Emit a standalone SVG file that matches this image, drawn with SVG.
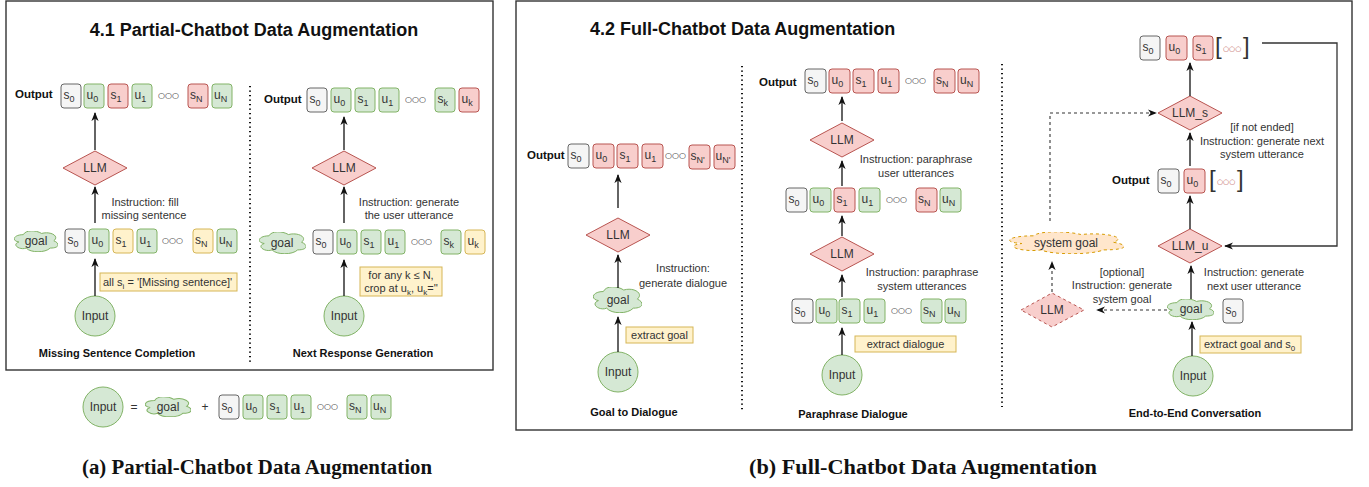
<svg xmlns="http://www.w3.org/2000/svg" xmlns:xlink="http://www.w3.org/1999/xlink" width="1369" height="487" viewBox="0 0 1369 487">
<style>
text{font-family:"Liberation Sans",Arial,sans-serif;fill:#333}
.frame{fill:none;stroke:#333;stroke-width:1.4}
.title{font-size:18px;font-weight:bold;fill:#111}
.cap{font-family:"Liberation Serif","Times New Roman",serif;font-size:20.5px;font-weight:bold;fill:#111;text-anchor:middle}
.sub{font-size:11px;font-weight:bold;fill:#111;text-anchor:middle}
.lb{font-size:11.5px;font-weight:bold;fill:#111}
.t{font-size:11px;text-anchor:middle}
.bt{font-size:12px}
.s{font-size:9px}
.ct{font-size:12px;text-anchor:middle}
.ooo{font-family:"DejaVu Sans",sans-serif;font-size:8px;fill:#222}
.red{fill:#b85450;font-size:7px}
.brk{font-size:24px;fill:#333}
.g{fill:#f5f5f5;stroke:#666}
.gr{fill:#d5e8d4;stroke:#82b366}
.r{fill:#f8cecc;stroke:#b85450}
.y{fill:#fff2cc;stroke:#d6b656}
.og{fill:#ffe6cc;stroke:#d79b00;stroke-dasharray:3 3}
.dots{stroke:#111;stroke-width:2;stroke-dasharray:1.3 3.2;fill:none}
.ar{stroke:#111;stroke-width:1.3;fill:none;marker-end:url(#ah)}
.da{stroke:#333;stroke-width:1.1;fill:none;stroke-dasharray:3 3;marker-end:url(#ah)}
.ln{stroke:#333;stroke-width:1.3;fill:none;marker-end:url(#ah)}
</style>
<defs>
<marker id="ah" viewBox="0 0 10 10" refX="9" refY="5" markerWidth="9" markerHeight="9" markerUnits="userSpaceOnUse" orient="auto">
<path d="M0,1 L10,5 L0,9 L3,5 Z" fill="#111"/>
</marker>
<symbol id="cloud" viewBox="6 5 90 43" preserveAspectRatio="none">
<path vector-effect="non-scaling-stroke" d="M25,12.5 C5,12.5 0,25 16,27.5 C0,33 18,45 31,40 C40,50 70,50 80,40 C100,40 100,30 87.5,25 C100,15 80,5 62.5,10 C50,2.5 30,2.5 25,12.5 Z"/>
</symbol>
</defs>

<!-- ===== Panel (a) ===== -->
<g id="frame-a"><rect class="frame" x="6" y="1" width="487" height="369"/></g>
<text class="title" x="254" y="36" text-anchor="middle">4.1 Partial-Chatbot Data Augmentation</text>
<line class="dots" x1="250" y1="86" x2="250" y2="364"/>

<!-- Missing sentence completion -->
<g id="msc-output">
<text class="lb" x="15" y="98">Output</text>
<rect class="g" x="61" y="84" width="20" height="24" rx="3"/><text class="bt" x="63.5" y="99" fill="#666">s<tspan class="s" dy="3">0</tspan></text>
<rect class="gr" x="84" y="84" width="20" height="24" rx="3"/><text class="bt" x="86.5" y="99">u<tspan class="s" dy="3">0</tspan></text>
<rect class="r" x="108" y="84" width="20" height="24" rx="3"/><text class="bt" x="110.5" y="99">s<tspan class="s" dy="3">1</tspan></text>
<rect class="gr" x="132" y="84" width="20" height="24" rx="3"/><text class="bt" x="134.5" y="99">u<tspan class="s" dy="3">1</tspan></text>
<text class="ooo" x="158" y="98">○○○</text>
<rect class="r" x="188" y="84" width="20" height="24" rx="3"/><text class="bt" x="190" y="99">s<tspan class="s" dy="3">N</tspan></text>
<rect class="gr" x="212" y="84" width="20" height="24" rx="3"/><text class="bt" x="214" y="99">u<tspan class="s" dy="3">N</tspan></text>
</g>
<g id="msc-llm"><polygon class="r" points="63,168 95,151 127,168 95,185"/><text class="ct" x="95" y="172">LLM</text></g>
<g id="msc-goal"><use href="#cloud" x="14" y="231" width="44" height="21" class="gr"/><text class="ct" x="36" y="245">goal</text></g>
<g id="msc-input-row">
<rect class="g" x="65" y="229" width="20" height="24" rx="3"/><text class="bt" x="67.5" y="244" fill="#666">s<tspan class="s" dy="3">0</tspan></text>
<rect class="gr" x="89" y="229" width="20" height="24" rx="3"/><text class="bt" x="91.5" y="244">u<tspan class="s" dy="3">0</tspan></text>
<rect class="y" x="113" y="229" width="20" height="24" rx="3"/><text class="bt" x="115.5" y="244">s<tspan class="s" dy="3">1</tspan></text>
<rect class="gr" x="137" y="229" width="20" height="24" rx="3"/><text class="bt" x="139.5" y="244">u<tspan class="s" dy="3">1</tspan></text>
<text class="ooo" x="162" y="243">○○○</text>
<rect class="y" x="193" y="229" width="20" height="24" rx="3"/><text class="bt" x="195" y="244">s<tspan class="s" dy="3">N</tspan></text>
<rect class="gr" x="217" y="229" width="20" height="24" rx="3"/><text class="bt" x="219" y="244">u<tspan class="s" dy="3">N</tspan></text>
</g>
<g id="msc-note"><rect class="y" x="100" y="273" width="137" height="18"/><text x="103" y="286" font-size="11">all s<tspan font-size="8" dy="3">i</tspan><tspan dy="-3"> = '[Missing sentence]'</tspan></text></g>
<g id="msc-input"><circle class="gr" cx="95" cy="316" r="20"/><text class="ct" x="95" y="320">Input</text></g>
<text class="t" x="145" y="206">Instruction: fill</text>
<text class="t" x="144" y="219">missing sentence</text>
<text class="sub" x="117" y="357">Missing Sentence Completion</text>

<!-- Next response generation -->
<g id="nrg-output">
<text class="lb" x="264" y="103">Output</text>
<rect class="g" x="307" y="88" width="20" height="24" rx="3"/><text class="bt" x="309.5" y="103" fill="#666">s<tspan class="s" dy="3">0</tspan></text>
<rect class="gr" x="331" y="88" width="20" height="24" rx="3"/><text class="bt" x="333.5" y="103">u<tspan class="s" dy="3">0</tspan></text>
<rect class="gr" x="355" y="88" width="20" height="24" rx="3"/><text class="bt" x="357.5" y="103">s<tspan class="s" dy="3">1</tspan></text>
<rect class="gr" x="379" y="88" width="20" height="24" rx="3"/><text class="bt" x="381.5" y="103">u<tspan class="s" dy="3">1</tspan></text>
<text class="ooo" x="405" y="102">○○○</text>
<rect class="gr" x="435" y="88" width="20" height="24" rx="3"/><text class="bt" x="437.5" y="103">s<tspan class="s" dy="3">k</tspan></text>
<rect class="r" x="459" y="88" width="20" height="24" rx="3"/><text class="bt" x="461.5" y="103">u<tspan class="s" dy="3">k</tspan></text>
</g>
<g id="nrg-llm"><polygon class="r" points="312,168 344,151 376,168 344,185"/><text class="ct" x="344" y="172">LLM</text></g>
<g id="nrg-goal"><use href="#cloud" x="259" y="232" width="47" height="22" class="gr"/><text class="ct" x="282" y="247">goal</text></g>
<g id="nrg-input-row">
<rect class="g" x="313" y="230" width="20" height="24" rx="3"/><text class="bt" x="315.5" y="245" fill="#666">s<tspan class="s" dy="3">0</tspan></text>
<rect class="gr" x="337" y="230" width="20" height="24" rx="3"/><text class="bt" x="339.5" y="245">u<tspan class="s" dy="3">0</tspan></text>
<rect class="gr" x="361" y="230" width="20" height="24" rx="3"/><text class="bt" x="363.5" y="245">s<tspan class="s" dy="3">1</tspan></text>
<rect class="gr" x="385" y="230" width="20" height="24" rx="3"/><text class="bt" x="387.5" y="245">u<tspan class="s" dy="3">1</tspan></text>
<text class="ooo" x="411" y="244">○○○</text>
<rect class="gr" x="441" y="230" width="20" height="24" rx="3"/><text class="bt" x="443.5" y="245">s<tspan class="s" dy="3">k</tspan></text>
<rect class="y" x="465" y="230" width="20" height="24" rx="3"/><text class="bt" x="467.5" y="245">u<tspan class="s" dy="3">k</tspan></text>
</g>
<g id="nrg-note"><rect class="y" x="360" y="267" width="82" height="29"/>
<text class="t" x="401" y="279">for any k ≤ N,</text>
<text class="t" x="401" y="292">crop at u<tspan font-size="8" dy="3">k</tspan><tspan dy="-3">, u</tspan><tspan font-size="8" dy="3">k</tspan><tspan dy="-3">=''</tspan></text></g>
<g id="nrg-input"><circle class="gr" cx="344" cy="316" r="20"/><text class="ct" x="344" y="320">Input</text></g>
<text class="t" x="409" y="206">Instruction: generate</text>
<text class="t" x="409" y="219">the user utterance</text>
<text class="sub" x="363" y="357">Next Response Generation</text>

<!-- Legend -->
<g id="legend">
<circle class="gr" cx="103" cy="407" r="20"/><text class="ct" x="103" y="411">Input</text>
<text class="ct" x="134" y="411">=</text>
<use href="#cloud" x="145" y="397" width="46" height="20" class="gr"/><text class="ct" x="168" y="411">goal</text>
<text class="ct" x="205" y="411">+</text>
<rect class="g" x="219" y="395" width="20" height="24" rx="3"/><text class="bt" x="221.5" y="410" fill="#666">s<tspan class="s" dy="3">0</tspan></text>
<rect class="gr" x="243" y="395" width="20" height="24" rx="3"/><text class="bt" x="245.5" y="410">u<tspan class="s" dy="3">0</tspan></text>
<rect class="gr" x="267" y="395" width="20" height="24" rx="3"/><text class="bt" x="269.5" y="410">s<tspan class="s" dy="3">1</tspan></text>
<rect class="gr" x="291" y="395" width="20" height="24" rx="3"/><text class="bt" x="293.5" y="410">u<tspan class="s" dy="3">1</tspan></text>
<text class="ooo" x="317" y="409">○○○</text>
<rect class="gr" x="347" y="395" width="20" height="24" rx="3"/><text class="bt" x="349" y="410">s<tspan class="s" dy="3">N</tspan></text>
<rect class="gr" x="371" y="395" width="20" height="24" rx="3"/><text class="bt" x="373" y="410">u<tspan class="s" dy="3">N</tspan></text>
</g>

<!-- ===== Panel (b) ===== -->
<g id="frame-b"><rect class="frame" x="516" y="1" width="836" height="429"/></g>
<text class="title" x="590" y="35">4.2 Full-Chatbot Data Augmentation</text>
<line class="dots" x1="742" y1="66" x2="742" y2="410"/>
<line class="dots" x1="1002" y1="64" x2="1002" y2="407"/>

<!-- Goal to dialogue -->
<g id="g2d-output">
<text class="lb" x="527" y="159">Output</text>
<rect class="g" x="568" y="144" width="21" height="24" rx="3"/><text class="bt" x="570.5" y="159" fill="#666">s<tspan class="s" dy="3">0</tspan></text>
<rect class="r" x="593" y="144" width="21" height="24" rx="3"/><text class="bt" x="595.5" y="159">u<tspan class="s" dy="3">0</tspan></text>
<rect class="r" x="617" y="144" width="21" height="24" rx="3"/><text class="bt" x="619.5" y="159">s<tspan class="s" dy="3">1</tspan></text>
<rect class="r" x="642" y="144" width="21" height="24" rx="3"/><text class="bt" x="644.5" y="159">u<tspan class="s" dy="3">1</tspan></text>
<text class="ooo" x="665" y="158">○○○</text>
<rect class="r" x="689" y="145" width="21" height="24" rx="3"/><text class="bt" x="690.5" y="160">s<tspan class="s" dy="3">N'</tspan></text>
<rect class="r" x="714" y="145" width="21" height="24" rx="3"/><text class="bt" x="715.5" y="160">u<tspan class="s" dy="3">N'</tspan></text>
</g>
<g id="g2d-llm"><polygon class="r" points="586,235 618,218 650,235 618,252"/><text class="ct" x="618" y="239">LLM</text></g>
<g id="g2d-goal"><use href="#cloud" x="593" y="287" width="49" height="26" class="gr"/><text class="ct" x="618" y="304">goal</text></g>
<g id="g2d-note"><rect class="y" x="626" y="327" width="67" height="16"/><text class="t" x="659.5" y="339">extract goal</text></g>
<g id="g2d-input"><circle class="gr" cx="618" cy="372" r="20"/><text class="ct" x="618" y="376">Input</text></g>
<text class="t" x="683" y="272">Instruction:</text>
<text class="t" x="683" y="287">generate dialogue</text>
<text class="sub" x="634" y="416">Goal to Dialogue</text>

<!-- Paraphrase dialogue -->
<g id="pd-output">
<text class="lb" x="759" y="86">Output</text>
<rect class="g" x="805" y="69" width="21" height="24" rx="3"/><text class="bt" x="807.5" y="84" fill="#666">s<tspan class="s" dy="3">0</tspan></text>
<rect class="r" x="829" y="69" width="21" height="24" rx="3"/><text class="bt" x="831.5" y="84">u<tspan class="s" dy="3">0</tspan></text>
<rect class="r" x="853" y="69" width="21" height="24" rx="3"/><text class="bt" x="855.5" y="84">s<tspan class="s" dy="3">1</tspan></text>
<rect class="r" x="878" y="69" width="21" height="24" rx="3"/><text class="bt" x="880.5" y="84">u<tspan class="s" dy="3">1</tspan></text>
<text class="ooo" x="905" y="83">○○○</text>
<rect class="r" x="934" y="69" width="21" height="24" rx="3"/><text class="bt" x="936" y="84">s<tspan class="s" dy="3">N</tspan></text>
<rect class="r" x="958" y="69" width="21" height="24" rx="3"/><text class="bt" x="960" y="84">u<tspan class="s" dy="3">N</tspan></text>
</g>
<g id="pd-llm1"><polygon class="r" points="810,140 842,123 874,140 842,157"/><text class="ct" x="842" y="144">LLM</text></g>
<g id="pd-mid-row">
<rect class="g" x="786" y="188" width="21" height="24" rx="3"/><text class="bt" x="788.5" y="203" fill="#666">s<tspan class="s" dy="3">0</tspan></text>
<rect class="gr" x="810" y="188" width="21" height="24" rx="3"/><text class="bt" x="812.5" y="203">u<tspan class="s" dy="3">0</tspan></text>
<rect class="r" x="834" y="188" width="21" height="24" rx="3"/><text class="bt" x="836.5" y="203">s<tspan class="s" dy="3">1</tspan></text>
<rect class="gr" x="859" y="188" width="21" height="24" rx="3"/><text class="bt" x="861.5" y="203">u<tspan class="s" dy="3">1</tspan></text>
<text class="ooo" x="886" y="202">○○○</text>
<rect class="r" x="916" y="188" width="21" height="24" rx="3"/><text class="bt" x="918" y="203">s<tspan class="s" dy="3">N</tspan></text>
<rect class="gr" x="940" y="188" width="21" height="24" rx="3"/><text class="bt" x="942" y="203">u<tspan class="s" dy="3">N</tspan></text>
</g>
<g id="pd-llm2"><polygon class="r" points="810,254 842,237 874,254 842,271"/><text class="ct" x="842" y="258">LLM</text></g>
<g id="pd-in-row">
<rect class="g" x="792" y="299" width="21" height="24" rx="3"/><text class="bt" x="794.5" y="314" fill="#666">s<tspan class="s" dy="3">0</tspan></text>
<rect class="gr" x="816" y="299" width="21" height="24" rx="3"/><text class="bt" x="818.5" y="314">u<tspan class="s" dy="3">0</tspan></text>
<rect class="gr" x="839" y="299" width="21" height="24" rx="3"/><text class="bt" x="841.5" y="314">s<tspan class="s" dy="3">1</tspan></text>
<rect class="gr" x="864" y="299" width="21" height="24" rx="3"/><text class="bt" x="866.5" y="314">u<tspan class="s" dy="3">1</tspan></text>
<text class="ooo" x="891" y="313">○○○</text>
<rect class="gr" x="921" y="299" width="21" height="24" rx="3"/><text class="bt" x="923" y="314">s<tspan class="s" dy="3">N</tspan></text>
<rect class="gr" x="945" y="299" width="21" height="24" rx="3"/><text class="bt" x="947" y="314">u<tspan class="s" dy="3">N</tspan></text>
</g>
<g id="pd-note"><rect class="y" x="855" y="336" width="101" height="16"/><text class="t" x="905.5" y="348">extract dialogue</text></g>
<g id="pd-input"><circle class="gr" cx="842" cy="375" r="20"/><text class="ct" x="842" y="379">Input</text></g>
<text class="t" x="916" y="163">Instruction: paraphrase</text>
<text class="t" x="916" y="177">user utterances</text>
<text class="t" x="922" y="276">Instruction: paraphrase</text>
<text class="t" x="922" y="290">system utterances</text>
<text class="sub" x="853" y="418">Paraphrase Dialogue</text>

<!-- End-to-end conversation -->
<g id="e2e-top-row">
<rect class="g" x="1140" y="36" width="20" height="24" rx="3"/><text class="bt" x="1142.5" y="51" fill="#666">s<tspan class="s" dy="3">0</tspan></text>
<rect class="r" x="1166" y="36" width="21" height="24" rx="3"/><text class="bt" x="1168.5" y="51">u<tspan class="s" dy="3">0</tspan></text>
<rect class="r" x="1193" y="36" width="20" height="24" rx="3"/><text class="bt" x="1195.5" y="51">s<tspan class="s" dy="3">1</tspan></text>
<text class="brk" x="1215" y="54">[</text><text class="ooo red" x="1223" y="50.5">○○○</text><text class="brk" x="1243" y="54">]</text>
</g>
<g id="e2e-llms"><polygon class="r" points="1158,113 1190,96 1222,113 1190,130"/><text class="ct" x="1190" y="117">LLM_s</text></g>
<g id="e2e-mid-row">
<text class="lb" x="1112" y="184">Output</text>
<rect class="g" x="1158" y="169" width="21" height="24" rx="3"/><text class="bt" x="1160.5" y="184" fill="#666">s<tspan class="s" dy="3">0</tspan></text>
<rect class="r" x="1184" y="169" width="21" height="24" rx="3"/><text class="bt" x="1186.5" y="184">u<tspan class="s" dy="3">0</tspan></text>
<text class="brk" x="1209" y="187">[</text><text class="ooo red" x="1217" y="183.5">○○○</text><text class="brk" x="1237" y="187">]</text>
</g>
<g id="e2e-llmu"><polygon class="r" points="1158,246 1190,229 1222,246 1190,263"/><text class="ct" x="1190" y="250">LLM_u</text></g>
<g id="e2e-goal"><use href="#cloud" x="1167" y="299" width="47" height="21" class="gr"/><text class="ct" x="1191" y="313">goal</text></g>
<g id="e2e-s0"><rect class="g" x="1223" y="299" width="20" height="24" rx="3"/><text class="bt" x="1225.5" y="314" fill="#666">s<tspan class="s" dy="3">0</tspan></text></g>
<g id="e2e-note"><rect class="y" x="1200" y="336" width="101" height="17"/><text x="1204" y="348" font-size="11">extract goal and s<tspan font-size="8" dy="3">0</tspan></text></g>
<g id="e2e-input"><circle class="gr" cx="1193" cy="376" r="20"/><text class="ct" x="1193" y="380">Input</text></g>
<g id="e2e-llm-opt"><polygon class="r" points="1021,310 1052,293 1084,310 1052,327" stroke-dasharray="3 3"/><text class="ct" x="1052" y="314">LLM</text></g>
<g id="e2e-sysgoal"><use href="#cloud" x="1009" y="232" width="115" height="22" class="og"/><text class="ct" x="1066" y="247">system goal</text></g>
<text class="t" x="1262" y="131">[if not ended]</text>
<text class="t" x="1262" y="145">Instruction: generate next</text>
<text class="t" x="1262" y="158">system utterance</text>
<text class="t" x="1254" y="276">Instruction: generate</text>
<text class="t" x="1254" y="290">next user utterance</text>
<text class="t" x="1122" y="276">[optional]</text>
<text class="t" x="1122" y="289">Instruction: generate</text>
<text class="t" x="1122" y="303">system goal</text>
<text class="sub" x="1195" y="417">End-to-End Conversation</text>

<!-- Connectors -->
<g id="connectors">
<line class="ar" x1="95" y1="296" x2="95" y2="259"/>
<line class="ar" x1="95" y1="223" x2="95" y2="187"/>
<line class="ar" x1="95" y1="150" x2="95" y2="113"/>
<line class="ar" x1="344" y1="296" x2="344" y2="260"/>
<line class="ar" x1="344" y1="223" x2="344" y2="187"/>
<line class="ar" x1="344" y1="150" x2="344" y2="117"/>
<line class="ar" x1="618" y1="352" x2="618" y2="317"/>
<line class="ar" x1="618" y1="288" x2="618" y2="255"/>
<line class="ar" x1="618" y1="208" x2="618" y2="175"/>
<line class="ar" x1="842" y1="355" x2="842" y2="328"/>
<line class="ar" x1="842" y1="297" x2="842" y2="275"/>
<line class="ar" x1="842" y1="236" x2="842" y2="216"/>
<line class="ar" x1="842" y1="186" x2="842" y2="161"/>
<line class="ar" x1="842" y1="121" x2="842" y2="97"/>
<line class="ar" x1="1192" y1="356" x2="1192" y2="322"/>
<line class="ar" x1="1191" y1="299" x2="1191" y2="266"/>
<line class="ar" x1="1190" y1="229" x2="1190" y2="196"/>
<line class="ar" x1="1190" y1="166" x2="1190" y2="133"/>
<line class="ar" x1="1190" y1="96" x2="1190" y2="63"/>
<polyline class="ln" points="1262,43 1337,43 1337,246 1225,246"/>
<line class="da" x1="1167" y1="310" x2="1097" y2="310"/>
<line class="da" x1="1052" y1="292" x2="1052" y2="262"/>
<polyline class="da" points="1050,221 1050,113 1156,113"/>
</g>

<text class="cap" x="257" y="474" textLength="350" lengthAdjust="spacingAndGlyphs">(a) Partial-Chatbot Data Augmentation</text>
<text class="cap" x="923" y="474" textLength="348" lengthAdjust="spacingAndGlyphs">(b) Full-Chatbot Data Augmentation</text>
</svg>
